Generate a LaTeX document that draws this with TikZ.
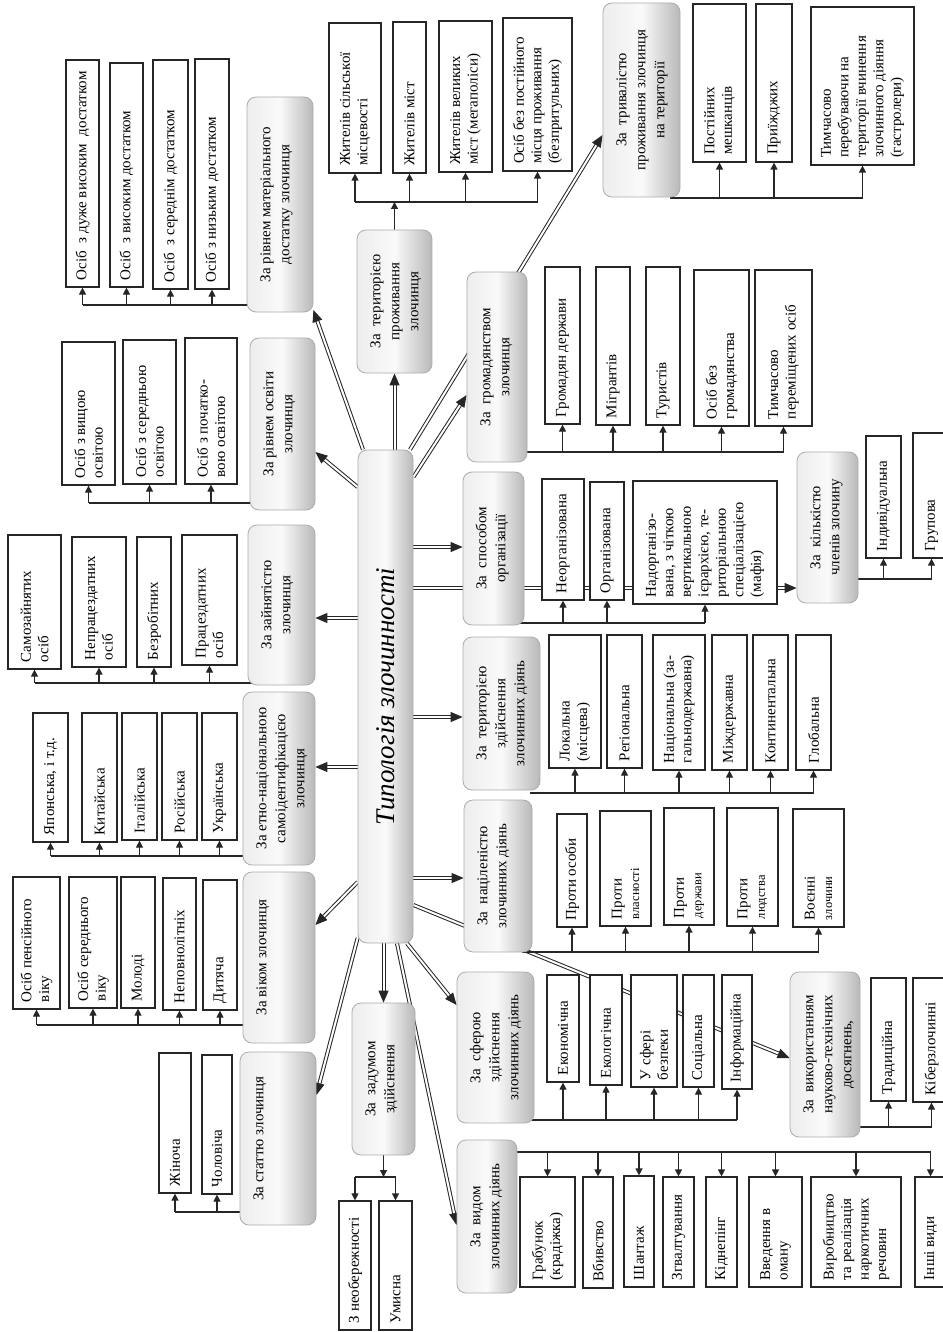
\documentclass[tikz,border=0pt]{standalone}
\usepackage{fontspec}
\setmainfont{Liberation Serif}
\usepackage{graphicx}
\usetikzlibrary{arrows.meta}
\pgfdeclarelayer{bg}
\pgfsetlayers{bg,main}
\tikzset{
  grpbox/.style={draw=gray!65, line width=0.8pt, rounded corners=9pt, left color=gray!14, right color=gray!55, middle color=gray!4, inner sep=0pt, font=\fontsize{15}{19}\selectfont},
  tbox/.style={grpbox, font=\fontsize{27}{30}\selectfont\itshape},
  leafbox/.style={draw=black!85, line width=1.2pt, fill=white, inner sep=0pt, font=\fontsize{15}{17.5}\selectfont},
  bus/.style={draw=black!85, line width=1.2pt},
  arr/.style={draw=black!85, line width=1.2pt, -{Triangle[length=7pt,width=7pt]}},
  dbl/.style={draw=black!85, double=white, line width=1pt, double distance=2pt, -{Triangle[length=12pt,width=10pt]}}
}
\newcommand\Gbox[6]{%
  \pgfmathsetmacro\gBW{#4-#2}%
  \pgfmathsetmacro\gBH{#5-#3}%
  \pgfmathsetmacro\gTW{#5-#3-10}%
  \pgfmathsetmacro\gTH{#4-#2-20}%
  \node[grpbox, minimum width=\gBW pt, minimum height=\gBH pt] (#1) at ({(#2+#4)/2},{(#3+#5)/2})
    {\rotatebox{90}{\parbox[c][\gTH pt][t]{\gTW pt}{\centering\strut #6}}};}
\newcommand\Lbox[6]{%
  \pgfmathsetmacro\lBW{#4-#2}%
  \pgfmathsetmacro\lBH{#5-#3}%
  \pgfmathsetmacro\lTW{#5-#3-14}%
  \node[leafbox, minimum width=\lBW pt, minimum height=\lBH pt] (#1) at ({(#2+#4)/2},{(#3+#5)/2})
    {\rotatebox{90}{\parbox{\lTW pt}{\raggedright #6}}};}
\newcommand\sm[1]{{\fontsize{12.5}{15}\selectfont #1}}
\begin{document}
\begin{tikzpicture}[x=1pt,y=-1pt]
\useasboundingbox (0,0) rectangle (942,1332);

% central node
\node[tbox, minimum width=55pt, minimum height=493pt] (T) at (385.5,696.5) {\rotatebox{90}{Типологія злочинності}};

% group nodes
\Gbox{gA}{247}{97}{313}{312}{За рівнем матеріального\\достатку злочинця}
\Gbox{gB}{250}{338}{315}{510}{За рівнем освіти\\злочинця}
\Gbox{gC}{248}{525}{315}{685}{За зайнятістю\\злочинця}
\Gbox{gD}{243}{692}{315}{865}{За етно-національною\\самоідентифікацією\\злочинця}
\Gbox{gE}{243}{872}{315}{1043}{За віком злочинця}
\Gbox{gF}{240}{1052}{316}{1225}{За статтю злочинця}
\Gbox{gG}{352}{1003}{415}{1155}{За~ задумом\\здійснення}
\Gbox{gH}{457}{1140}{517}{1293}{За~ видом\\злочинних діянь}
\Gbox{gI}{457}{972}{534}{1123}{За~ сферою\\здійснення\\злочинних діянь}
\Gbox{gJ}{790}{972}{860}{1137}{За~ використанням\\науково-технічних\\досягнень,}
\Gbox{gK}{797}{452}{858}{603}{За~ кількістю\\членів злочину}
\Gbox{gL}{463}{472}{524}{625}{За~ способом\\організації}
\Gbox{gM}{467}{272}{527}{462}{За~ громадянством\\злочинця}
\Gbox{gN}{603}{3}{680}{197}{За~ тривалістю\\проживання злочинця\\на території}
\Gbox{gO}{357}{230}{432}{373}{За~ територією\\проживання\\злочинця}
\Gbox{gP}{464}{800}{532}{952}{За~ націленістю\\злочинних діянь}
\Gbox{gQ}{463}{637}{540}{790}{За~ територією\\здійснення\\злочинних діянь}

% leaves A
\Lbox{a1}{66}{60}{99}{287}{Осіб~ з дуже високим~ достатком}
\Lbox{a2}{110}{63}{143}{287}{Осіб~ з високим достатком}
\Lbox{a3}{153}{60}{188}{289}{Осіб~ з середнім достатком}
\Lbox{a4}{195}{59}{229}{289}{Осіб з низьким достатком}
% B
\Lbox{b1}{62}{342}{115}{485}{Осіб з вищою\\освітою}
\Lbox{b2}{123}{340}{176}{484}{Осіб з середньою\\освітою}
\Lbox{b3}{185}{338}{237}{484}{Осіб з початко-\\вою освітою}
% C
\Lbox{c1}{8}{535}{61}{669}{Самозайнятих\\осіб}
\Lbox{c2}{72}{537}{126}{667}{Непрацездатних\\осіб}
\Lbox{c3}{137}{537}{171}{667}{Безробітних}
\Lbox{c4}{182}{535}{237}{665}{Працездатних\\осіб}
% D
\Lbox{d1}{33}{713}{68}{842}{Японська, і т.д.}
\Lbox{d2}{82}{713}{117}{842}{Китайська}
\Lbox{d3}{122}{713}{157}{840}{Італійська}
\Lbox{d4}{162}{713}{197}{840}{Російська}
\Lbox{d5}{202}{713}{237}{840}{Українська}
% E
\Lbox{e1}{13}{877}{60}{1009}{Осіб пенсійного\\віку}
\Lbox{e2}{69}{877}{117}{1008}{Осіб середнього\\віку}
\Lbox{e3}{121}{877}{155}{1008}{Молоді}
\Lbox{e4}{163}{878}{196}{1010}{Неповнолітніх}
\Lbox{e5}{203}{880}{237}{1010}{Дитяча}
% F
\Lbox{f1}{159}{1053}{191}{1193}{Жіноча}
\Lbox{f2}{202}{1055}{232}{1194}{Чоловіча}
% G
\Lbox{g1}{339}{1201}{371}{1330}{З необережності}
\Lbox{g2}{379}{1201}{412}{1330}{Умисна}
% H
\Lbox{h1}{520}{1177}{575}{1287}{Грабунок\\(крадіжка)}
\Lbox{h2}{583}{1177}{613}{1288}{Вбивство}
\Lbox{h3}{624}{1176}{654}{1287}{Шантаж}
\Lbox{h4}{663}{1177}{694}{1287}{Згвалтування}
\Lbox{h5}{706}{1177}{737}{1287}{Кіднепінг}
\Lbox{h6}{749}{1177}{802}{1287}{Введення в\\оману}
\Lbox{h7}{811}{1177}{901}{1287}{Виробництво\\та реалізація\\наркотичних\\речовин}
\Lbox{h8}{915}{1177}{946}{1287}{Інші види}
% I
\Lbox{i1}{547}{975}{579}{1082}{Економічна}
\Lbox{i2}{590}{975}{622}{1085}{Екологічна}
\Lbox{i3}{631}{975}{677}{1087}{У сфері\\безпеки}
\Lbox{i4}{683}{975}{714}{1087}{Соціальна}
\Lbox{i5}{722}{975}{752}{1089}{Інформаційна}
% J
\Lbox{j1}{871}{978}{906}{1101}{Традиційна}
\Lbox{j2}{913}{978}{950}{1102}{Кіберзлочинні}
% K
\Lbox{k1}{866}{436}{901}{558}{Індивідуальна}
\Lbox{k2}{913}{433}{950}{558}{Групова}
% L
\Lbox{l1}{542}{479}{584}{600}{Неорганізована}
\Lbox{l2}{590}{482}{624}{600}{Організована}
\Lbox{l3}{633}{481}{777}{604}{Надорганізо-\\вана, з чіткою\\вертикальною\\ієрархією, те-\\риторіальною\\спеціалізацією\\(мафія)}
% M
\Lbox{m1}{545}{267}{580}{424}{Громадян держави}
\Lbox{m2}{596}{267}{630}{425}{Мігрантів}
\Lbox{m3}{646}{267}{680}{425}{Туристів}
\Lbox{m4}{694}{270}{749}{426}{Осіб без\\громадянства}
\Lbox{m5}{755}{270}{812}{426}{Тимчасово\\переміщених осіб}
% N
\Lbox{n1}{693}{4}{746}{162}{Постійних\\мешканців}
\Lbox{n2}{756}{4}{792}{162}{Приїжджих}
\Lbox{n3}{811}{7}{914}{165}{Тимчасово\\перебуваючи на\\території вчинення\\злочинного діяння\\(гастролери)}
% O
\Lbox{o1}{329}{23}{381}{173}{Жителів сільської\\місцевості}
\Lbox{o2}{393}{22}{426}{173}{Жителів міст}
\Lbox{o3}{439}{21}{492}{172}{Жителів великих\\міст (мегаполіси)}
\Lbox{o4}{503}{18}{572}{171}{Осіб без постійного\\місця проживання\\(безпритульних)}
% P
\Lbox{p1}{557}{814}{587}{927}{Проти особи}
\Lbox{p2}{600}{811}{651}{926}{Проти\\\sm{власності}}
\Lbox{p3}{664}{808}{714}{925}{Проти\\\sm{держави}}
\Lbox{p4}{727}{808}{778}{926}{Проти\\\sm{людства}}
\Lbox{p5}{793}{809}{844}{927}{Воєнні\\\sm{злочини}}
% Q
\Lbox{q1}{549}{635}{601}{768}{Локальна\\(місцева)}
\Lbox{q2}{607}{635}{642}{768}{Регіональна}
\Lbox{q3}{653}{635}{705}{770}{Національна (за-\\гальнодержавна)}
\Lbox{q4}{712}{635}{747}{770}{Міждержавна}
\Lbox{q5}{753}{635}{788}{770}{Континентальна}
\Lbox{q6}{796}{635}{831}{770}{Глобальна}

% bus levels
\coordinate (bA) at (0,305);
\coordinate (bB) at (0,503);
\coordinate (bC) at (0,683);
\coordinate (bD) at (0,856);
\coordinate (bE) at (0,1025);
\coordinate (bF) at (0,1212);
\coordinate (bG) at (0,1177);
\coordinate (bH) at (0,1152);
\coordinate (bI) at (0,1120);
\coordinate (bJ) at (0,1127);
\coordinate (bK) at (0,579);
\coordinate (bL) at (0,623);
\coordinate (bM) at (0,452);
\coordinate (bN) at (0,198);
\coordinate (bO) at (0,202);
\coordinate (bP) at (0,952);
\coordinate (bQ) at (0,793);

\begin{pgfonlayer}{bg}
\fill[white] (0,0) rectangle (942,1332);
% main arrows from the centre
\draw[dbl] (T.north -| 363,0) -- (gA.east |- 0,310);
\draw[dbl] (T.north -| gO.south) -- (gO.south);
\draw[dbl] (T.north -| 410,0) -- (gN.west |- 0,135);
\draw[dbl] (T.east |- 0,477) -- (gM.west |- 0,395);
\draw[dbl] (T.west |- 0,487) -- (gB.east |- 0,452);
\draw[dbl] (T.east |- 0,547) -- (gL.west |- 0,547);
\draw[dbl] (T.east |- 0,588) -- (gK.west |- 0,588);
\draw[dbl] (T.west |- 0,618) -- (gC.east |- 0,618);
\draw[dbl] (T.east |- 0,717) -- (gQ.west |- 0,717);
\draw[dbl] (T.west |- 0,767) -- (gD.east |- 0,767);
\draw[dbl] (T.east |- 0,878) -- (gP.west |- 0,878);
\draw[dbl] (T.west |- 0,882) -- (gE.east |- 0,925);
\draw[dbl] (T.east |- 0,905) -- (gJ.west |- 0,1058);
\draw[dbl] (T.west |- 0,938) -- (gF.east |- 0,1095);
\draw[dbl] (T.south -| gG.north) -- (gG.north);
\draw[dbl] (T.south -| 397,0) -- (gH.west |- 0,1225);
\draw[dbl] (T.south -| 407,0) -- (gI.west |- 0,1005);

% left-side groups
\draw[bus] ([xshift=10pt]gA.west |- bA) -- (a1.south |- bA);
\foreach \c in {a1,a2,a3,a4} \draw[arr] (\c.south |- bA) -- (\c.south);
\draw[bus] ([xshift=10pt]gB.west |- bB) -- (b1.south |- bB);
\foreach \c in {b1,b2,b3} \draw[arr] (\c.south |- bB) -- (\c.south);
\draw[bus] ([xshift=10pt]gC.west |- bC) -- (c1.south |- bC);
\foreach \c in {c1,c2,c3,c4} \draw[arr] (\c.south |- bC) -- (\c.south);
\draw[bus] ([xshift=10pt]gD.west |- bD) -- (d1.south |- bD);
\foreach \c in {d1,d2,d3,d4,d5} \draw[arr] (\c.south |- bD) -- (\c.south);
\draw[bus] ([xshift=10pt]gE.west |- bE) -- (e1.south |- bE);
\foreach \c in {e1,e2,e3,e4,e5} \draw[arr] (\c.south |- bE) -- (\c.south);
\draw[bus] ([xshift=10pt]gF.west |- bF) -- (f1.south |- bF);
\foreach \c in {f1,f2} \draw[arr] (\c.south |- bF) -- (\c.south);

% O (upwards)
\draw[arr] (gO.north) -- (gO.north |- bO);
\draw[bus] (o1.south |- bO) -- (o4.south |- bO);
\foreach \c in {o1,o2,o3,o4} \draw[arr] (\c.south |- bO) -- (\c.south);

% G (downwards)
\draw[arr] (gG.south) -- (gG.south |- bG);
\draw[bus] (g1.north |- bG) -- (g2.north |- bG);
\foreach \c in {g1,g2} \draw[arr] (\c.north |- bG) -- (\c.north);

% H (downwards)
\draw[bus] ([xshift=-10pt]gH.east |- bH) -- (h8.north |- bH);
\foreach \c in {h1,h2,h3,h4,h5,h6,h7,h8} \draw[arr] (\c.north |- bH) -- (\c.north);

% right-side groups (upwards)
\draw[bus] ([xshift=-10pt]gI.east |- bI) -- (i5.south |- bI);
\foreach \c in {i1,i2,i3,i4,i5} \draw[arr] (\c.south |- bI) -- (\c.south);
\draw[bus] ([xshift=-10pt]gJ.east |- bJ) -- (j2.south |- bJ);
\foreach \c in {j1,j2} \draw[arr] (\c.south |- bJ) -- (\c.south);
\draw[bus] ([xshift=-10pt]gK.east |- bK) -- (k2.south |- bK);
\foreach \c in {k1,k2} \draw[arr] (\c.south |- bK) -- (\c.south);
\draw[bus] ([xshift=-10pt]gL.east |- bL) -- (l3.south |- bL);
\foreach \c in {l1,l2,l3} \draw[arr] (\c.south |- bL) -- (\c.south);
\draw[bus] ([xshift=-10pt]gM.east |- bM) -- (m5.south |- bM);
\foreach \c in {m1,m2,m3,m4,m5} \draw[arr] (\c.south |- bM) -- (\c.south);
\draw[bus] ([xshift=-10pt]gN.east |- bN) -- (n3.south |- bN);
\foreach \c in {n1,n2,n3} \draw[arr] (\c.south |- bN) -- (\c.south);
\draw[bus] ([xshift=-10pt]gP.east |- bP) -- (p5.south |- bP);
\foreach \c in {p1,p2,p3,p4,p5} \draw[arr] (\c.south |- bP) -- (\c.south);
\draw[bus] ([xshift=-10pt]gQ.east |- bQ) -- (q6.south |- bQ);
\foreach \c in {q1,q2,q3,q4,q5,q6} \draw[arr] (\c.south |- bQ) -- (\c.south);
\end{pgfonlayer}
\end{tikzpicture}
\end{document}
